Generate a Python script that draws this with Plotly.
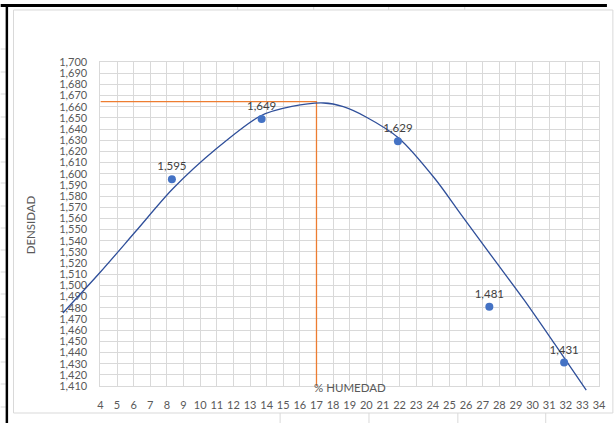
import plotly.graph_objects as go

# --- Data -------------------------------------------------------------
humedad = [8.3, 13.7, 21.9, 27.4, 31.9]          # % humedad
densidad = [1.595, 1.649, 1.629, 1.481, 1.431]   # densidad seca

# trend curve (sampled along the fitted curve)
curva_x = [1.74, 4.00, 6.14, 8.34, 10.95, 13.62, 15.52, 17.43, 18.61,
           19.98, 21.94, 24.14, 25.68, 27.53, 29.49, 31.33, 33.23]
curva_y = [1.4753, 1.5120, 1.5487, 1.5863, 1.6221, 1.6517, 1.6602, 1.6633,
           1.6600, 1.6508, 1.6320, 1.5953, 1.5639, 1.5264, 1.4870, 1.4476,
           1.4064]

# optimum (maximum of the curve)
hum_optima = 17.0
dens_maxima = 1.6645

x_min, x_max = 4, 34
y_min, y_max = 1.410, 1.700

# --- Page geometry (pixels) ---------------------------------------------
W, H = 614, 423
ML, MR, MT, MB = 55, 5, 55, 20
PW, PH = W - ML - MR, H - MT - MB

def px(x):
    return (x - ML) / PW

def py(y):
    return (H - MB - y) / PH

# main plotting box
L, R, T, B = 101, 606, 62, 386

# extended axes for the curve so it may run past the plotting box
sx = (x_max - x_min) / (R - L)
sy = (y_max - y_min) / (B - T)
x2_range = [x_min - (L - ML) * sx, x_max + (W - MR - R) * sx]
y2_range = [y_min - (H - MB - B) * sy, y_max + (T - MT) * sy]

GRID = "#D9D9D9"
TXT = "#595959"
FONT = "Lato"

fig = go.Figure()

# optimum guide lines
fig.add_trace(go.Scatter(
    x=[x_min, hum_optima, hum_optima],
    y=[dens_maxima, dens_maxima, y_min],
    mode="lines", line=dict(color="#ED7D31", width=1.3),
    xaxis="x", yaxis="y", hoverinfo="skip", showlegend=False,
))

# trend curve
fig.add_trace(go.Scatter(
    x=curva_x, y=curva_y, mode="lines",
    line=dict(color="#2F4F9A", width=1.3, shape="spline", smoothing=0.8),
    xaxis="x2", yaxis="y2", hoverinfo="skip", showlegend=False,
))

# measured points with value labels
fig.add_trace(go.Scatter(
    x=humedad, y=densidad, mode="markers+text",
    marker=dict(color="#4472C4", size=8),
    texttemplate="%{y:.3f}", textposition="top center",
    textfont=dict(family=FONT, size=11.5, color="#404040"),
    xaxis="x2", yaxis="y2", cliponaxis=False, showlegend=False,
))

# --- Sheet frame decorations ------------------------------------------
shapes = []

def line(x0, y0, x1, y1, color, width):
    shapes.append(dict(type="line", xref="paper", yref="paper",
                       x0=px(x0), y0=py(y0), x1=px(x1), y1=py(y1),
                       line=dict(color=color, width=width), layer="below"))

# chart border
shapes.append(dict(type="rect", xref="paper", yref="paper",
                   x0=px(13), y0=py(413), x1=px(620), y1=py(10),
                   line=dict(color=GRID, width=1), fillcolor="rgba(0,0,0,0)",
                   layer="below"))
# cell borders around the chart
for yy in [49, 72, 94, 117, 139, 162, 183, 206, 228, 250, 272, 294, 317,
           339, 362, 384, 407]:
    line(0, yy, 5, yy, GRID, 1)
for xx in [240, 317, 393, 470]:
    line(xx, 7, xx, 10, GRID, 1)
for xx in [283, 373, 463, 552]:
    line(xx, 413, xx, 423, GRID, 1)
# heavy black sheet borders
shapes.append(dict(type="rect", xref="paper", yref="paper",
                   x0=px(0), y0=py(7), x1=px(W), y1=py(4),
                   line=dict(width=0), fillcolor="black", layer="above"))
shapes.append(dict(type="rect", xref="paper", yref="paper",
                   x0=px(5), y0=py(H), x1=px(7.5), y1=py(4),
                   line=dict(width=0), fillcolor="black", layer="above"))

annotations = [
    dict(text="% HUMEDAD", xref="paper", yref="paper", x=px(354), y=py(387),
         showarrow=False, font=dict(family=FONT, size=11.5, color=TXT),
         xanchor="center", yanchor="middle"),
    dict(text="DENSIDAD", xref="paper", yref="paper", x=px(30), y=py(225),
         showarrow=False, textangle=-90,
         font=dict(family=FONT, size=11.5, color=TXT),
         xanchor="center", yanchor="middle"),
]

fig.update_layout(
    width=W, height=H,
    margin=dict(l=ML, r=MR, t=MT, b=MB, pad=0),
    paper_bgcolor="white", plot_bgcolor="rgba(0,0,0,0)",
    separators=", ",
    showlegend=False,
    shapes=shapes,
    annotations=annotations,
    xaxis=dict(
        domain=[px(L), px(R)], range=[x_min, x_max], anchor="y",
        tick0=x_min, dtick=1, showgrid=True, gridcolor=GRID, gridwidth=1,
        showline=True, linecolor=GRID, linewidth=1, mirror=True,
        zeroline=False, ticks="", ticklabelstandoff=9,
        tickfont=dict(family=FONT, size=11, color=TXT),
    ),
    yaxis=dict(
        domain=[py(B), py(T)], range=[y_min, y_max], anchor="x",
        tick0=y_min, dtick=0.01, tickformat=".3f",
        showgrid=True, gridcolor=GRID, gridwidth=1,
        showline=True, linecolor=GRID, linewidth=1, mirror=True,
        zeroline=False, ticks="", ticklabelstandoff=10,
        tickfont=dict(family=FONT, size=11, color=TXT),
    ),
    xaxis2=dict(domain=[0, 1], range=x2_range, anchor="y2", visible=False,
                showgrid=False, zeroline=False),
    yaxis2=dict(domain=[0, 1], range=y2_range, anchor="x2", visible=False,
                showgrid=False, zeroline=False),
)

fig.write_html("out.html")
